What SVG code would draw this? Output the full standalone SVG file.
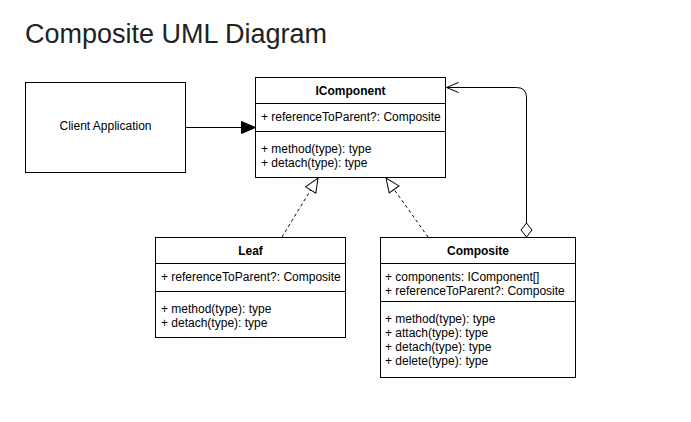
<svg xmlns="http://www.w3.org/2000/svg" width="691" height="422" viewBox="0 0 691 422">
<style>
text{font-family:"Liberation Sans",Arial,sans-serif;fill:#000}
.t{font-size:12px}
.b{font-size:12px;font-weight:bold;text-anchor:middle}
.box{fill:#fff;stroke:#000;stroke-width:1}
.ln{stroke:#000;stroke-width:1;fill:none}
.dash{stroke:#000;stroke-width:1;fill:none;stroke-dasharray:3 3}
</style>
<defs>
<marker id="filled" markerWidth="16" markerHeight="14" refX="15" refY="7" orient="auto" markerUnits="userSpaceOnUse">
<path d="M1,1 L15,7 L1,13 Z" fill="#000" stroke="#000"/>
</marker>
<marker id="hollow" markerWidth="16" markerHeight="14" refX="15" refY="7" orient="auto" markerUnits="userSpaceOnUse">
<path d="M1,1 L15,7 L1,13 Z" fill="#fff" stroke="#000"/>
</marker>
<marker id="open" markerWidth="14" markerHeight="12" refX="13" refY="6" orient="auto" markerUnits="userSpaceOnUse">
<path d="M1,1 L13,6 L1,11" fill="none" stroke="#000"/>
</marker>
</defs>
<rect width="691" height="422" fill="#fff"/>
<text x="25" y="43" style="font-size:27px;fill:#222">Composite UML Diagram</text>

<g id="client">
<rect class="box" x="25.5" y="82.5" width="160" height="90"/>
<text x="105.5" y="130" class="t" text-anchor="middle">Client Application</text>
</g>

<g id="icomponent">
<rect class="box" x="255.5" y="77.5" width="190" height="100"/>
<line class="ln" x1="255.5" y1="103.5" x2="445.5" y2="103.5"/>
<line class="ln" x1="255.5" y1="131.5" x2="445.5" y2="131.5"/>
<text x="350.5" y="95" class="b">IComponent</text>
<text x="261" y="121" class="t">+ referenceToParent?: Composite</text>
<text x="261" y="153" class="t">+ method(type): type</text>
<text x="261" y="167" class="t">+ detach(type): type</text>
</g>

<g id="leaf">
<rect class="box" x="155.5" y="237.5" width="190" height="100"/>
<line class="ln" x1="155.5" y1="263.5" x2="345.5" y2="263.5"/>
<line class="ln" x1="155.5" y1="291.5" x2="345.5" y2="291.5"/>
<text x="250.5" y="255" class="b">Leaf</text>
<text x="161" y="281" class="t">+ referenceToParent?: Composite</text>
<text x="161" y="313" class="t">+ method(type): type</text>
<text x="161" y="327" class="t">+ detach(type): type</text>
</g>

<g id="composite">
<rect class="box" x="380.5" y="237.5" width="195" height="140"/>
<line class="ln" x1="380.5" y1="263.5" x2="575.5" y2="263.5"/>
<line class="ln" x1="380.5" y1="301.5" x2="575.5" y2="301.5"/>
<text x="478" y="255" class="b">Composite</text>
<text x="385" y="281" class="t">+ components: IComponent[]</text>
<text x="385" y="295" class="t">+ referenceToParent?: Composite</text>
<text x="385" y="323" class="t">+ method(type): type</text>
<text x="385" y="337" class="t">+ attach(type): type</text>
<text x="385" y="351" class="t">+ detach(type): type</text>
<text x="385" y="365" class="t">+ delete(type): type</text>
</g>

<g id="connectors">
<line class="ln" x1="185.5" y1="127.5" x2="255.5" y2="127.5" marker-end="url(#filled)"/>
<line class="dash" x1="282" y1="237" x2="318" y2="178" marker-end="url(#hollow)"/>
<line class="dash" x1="428" y1="237" x2="386" y2="178" marker-end="url(#hollow)"/>
<path class="ln" d="M526.5,223 L526.5,97.5 Q526.5,87.5 516.5,87.5 L446.5,87.5" marker-end="url(#open)"/>
<path d="M526.5,237 L532,230 L526.5,223 L521,230 Z" fill="#fff" stroke="#000"/>
</g>
</svg>
